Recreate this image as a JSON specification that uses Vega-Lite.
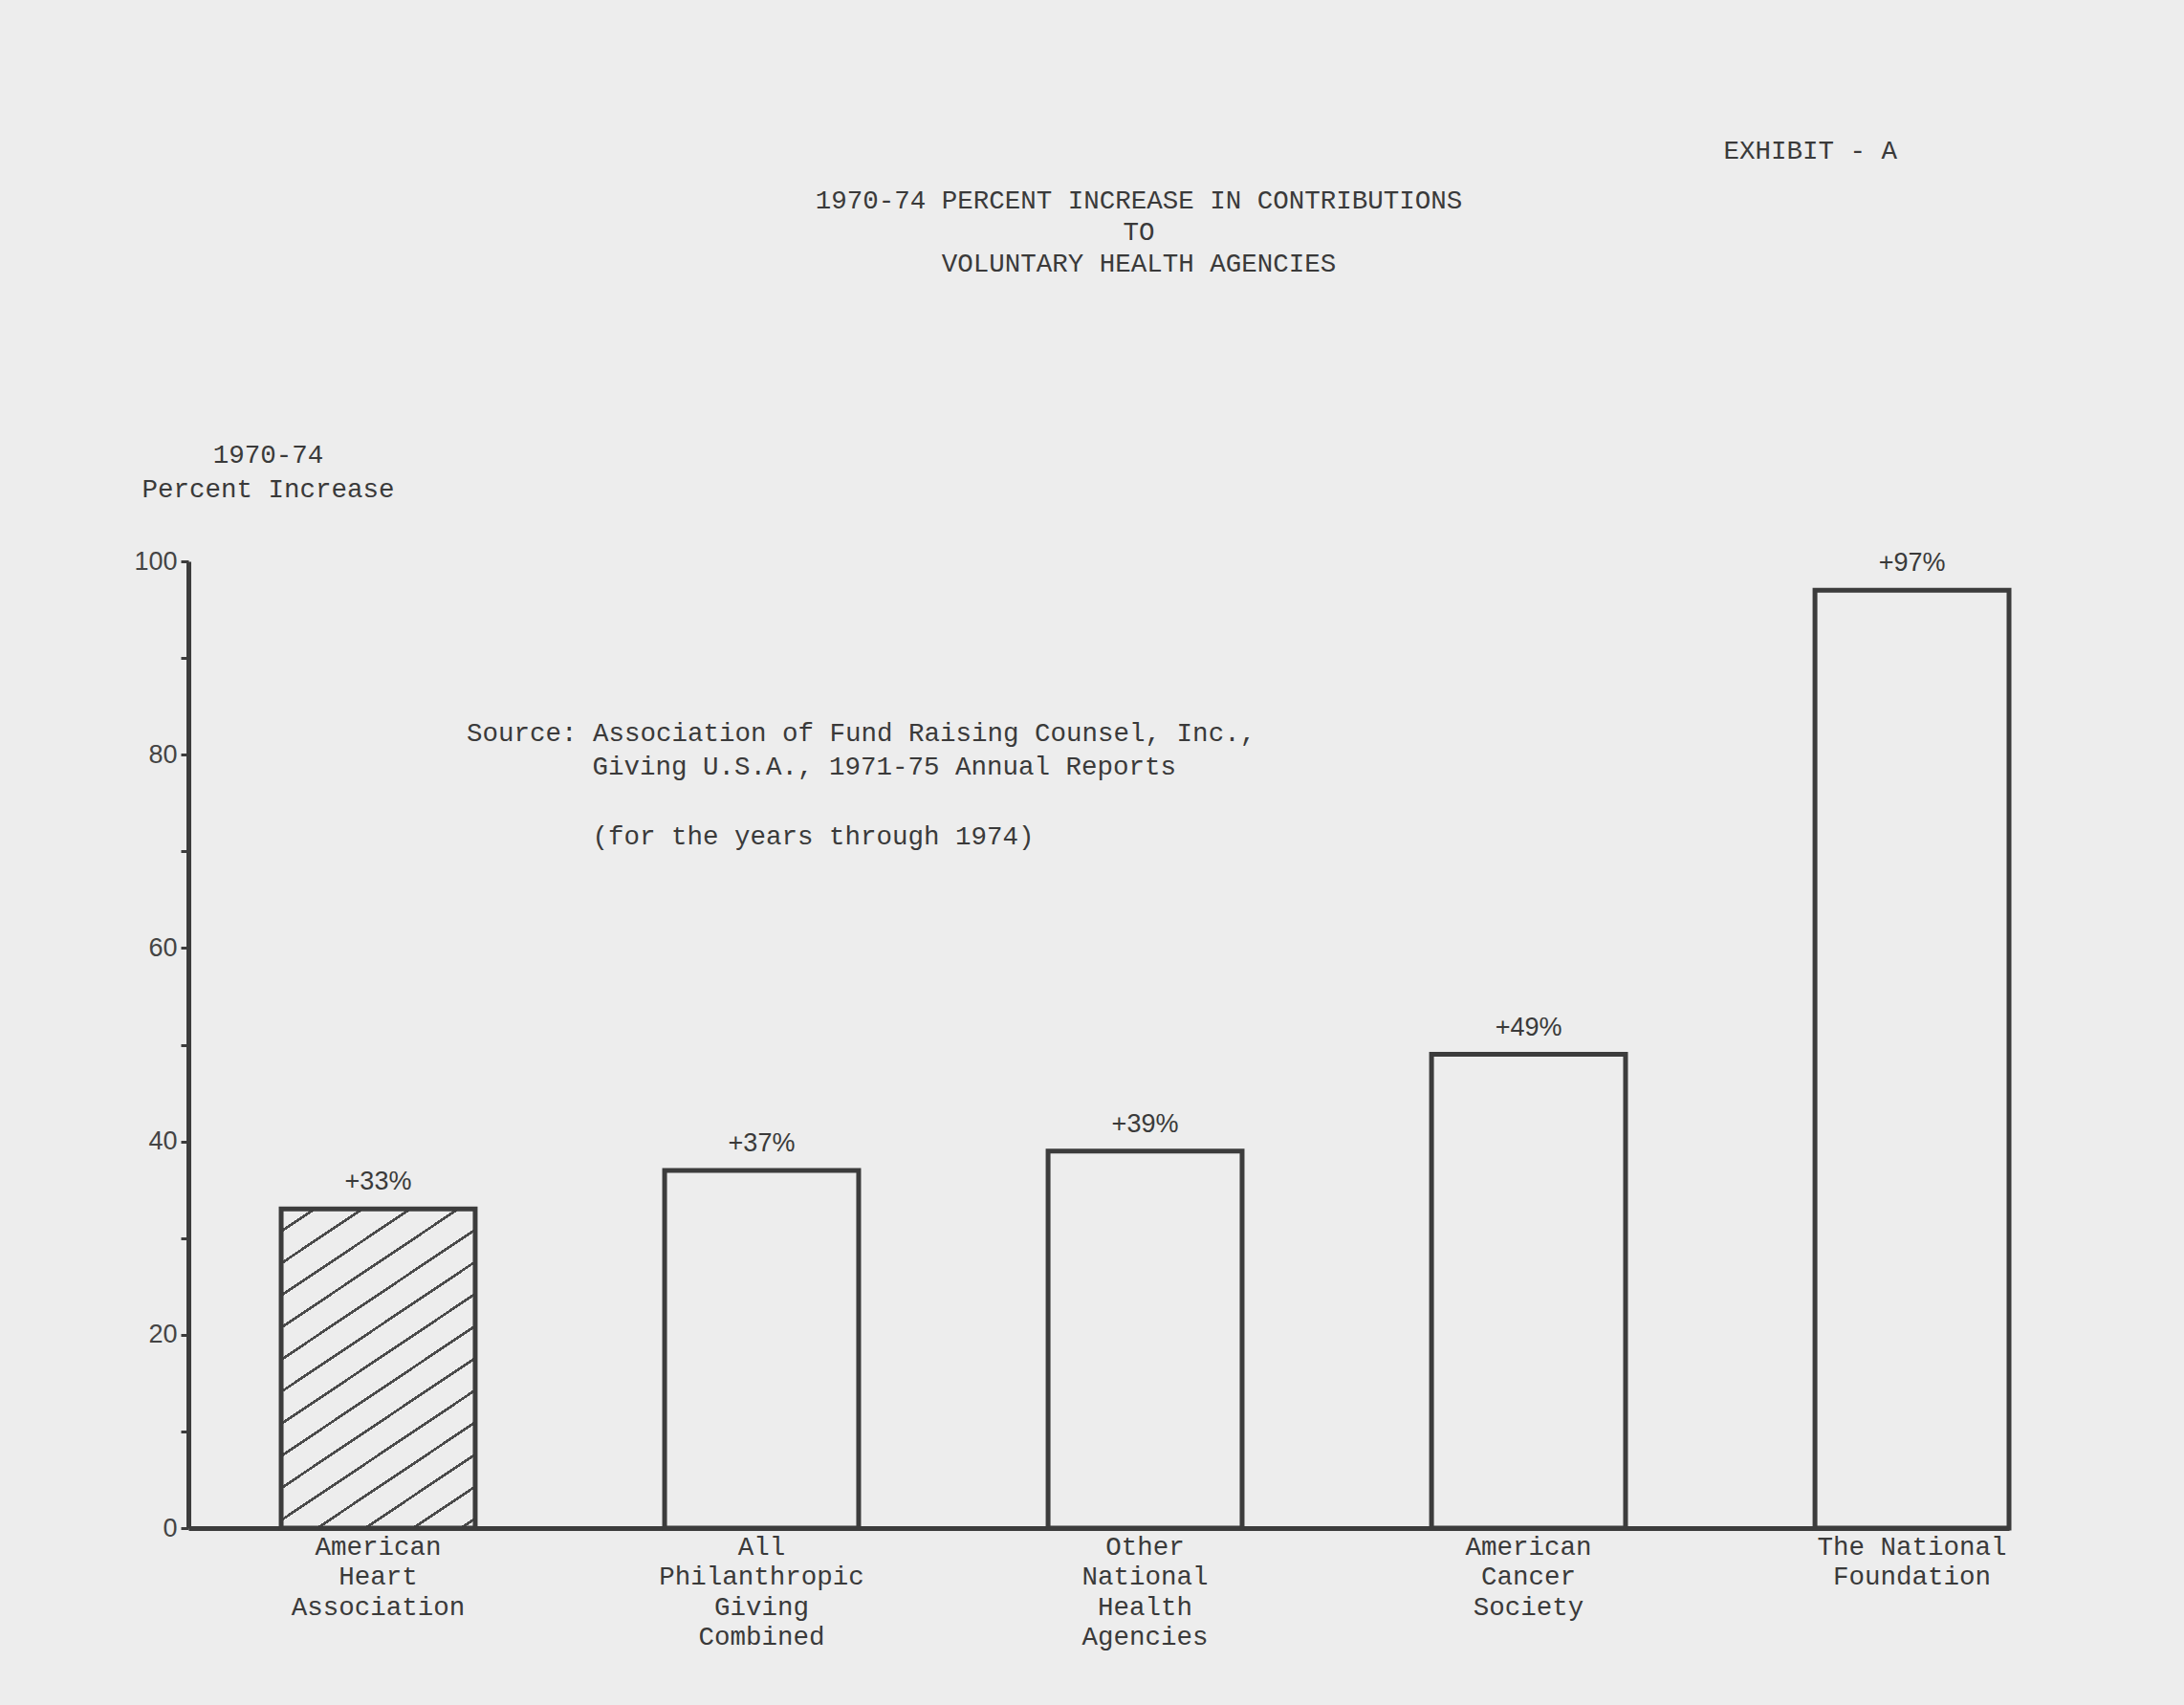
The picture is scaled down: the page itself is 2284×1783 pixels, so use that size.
{
  "$schema": "https://vega.github.io/schema/vega-lite/v6.json",
  "width": 1904,
  "height": 1011,
  "autosize": {"type": "none"},
  "padding": {"left": 197, "top": 587, "right": 183, "bottom": 185},
  "background": "#ededed",
  "config": {"view": {"stroke": null}, "font": "Liberation Mono"},
  "title": {
    "text": ["1970-74 PERCENT INCREASE IN CONTRIBUTIONS", "TO", "VOLUNTARY HEALTH AGENCIES"],
    "font": "Liberation Mono",
    "fontSize": 27.5,
    "fontWeight": "normal",
    "color": "#3a3a3a",
    "lineHeight": 33,
    "anchor": "middle",
    "frame": "group",
    "dx": 42,
    "offset": -145
  },
  "layer": [
    {
      "data": {
        "values": [
          {"agency": "American Heart Association", "pct": 33, "label": "+33%"},
          {"agency": "All Philanthropic Giving Combined", "pct": 37, "label": "+37%"},
          {"agency": "Other National Health Agencies", "pct": 39, "label": "+39%"},
          {"agency": "American Cancer Society", "pct": 49, "label": "+49%"},
          {"agency": "The National Foundation", "pct": 97, "label": "+97%"}
        ]
      },
      "encoding": {
        "x": {
          "field": "agency",
          "type": "nominal",
          "sort": null,
          "scale": {"paddingInner": 0.494, "paddingOuter": 0.121, "align": 1},
          "axis": {
            "title": null,
            "labelAngle": 0,
            "labelExpr": "datum.value == 'The National Foundation' ? ['The National', 'Foundation'] : split(datum.value, ' ')",
            "labelFont": "Liberation Mono",
            "labelFontSize": 27.5,
            "labelLineHeight": 31.5,
            "labelColor": "#3a3a3a",
            "labelBaseline": "top",
            "labelPadding": 5,
            "labelLimit": 500,
            "ticks": false,
            "domainColor": "#3c3c3c",
            "domainWidth": 5,
            "labelOverlap": false
          }
        },
        "y": {
          "field": "pct",
          "type": "quantitative",
          "scale": {"domain": [0, 100], "nice": false},
          "axis": {
            "title": ["1970-74", "Percent Increase"],
            "titleAngle": 0,
            "titleAlign": "center",
            "titleBaseline": "alphabetic",
            "titleX": 83,
            "titleY": -104,
            "titleFont": "Liberation Mono",
            "titleFontSize": 27.5,
            "titleFontWeight": "normal",
            "titleLineHeight": 36,
            "titleColor": "#3a3a3a",
            "values": [0, 10, 20, 30, 40, 50, 60, 70, 80, 90, 100],
            "labelExpr": "datum.value % 20 == 0 ? datum.label : ''",
            "labelFont": "Liberation Sans",
            "labelFontSize": 27,
            "labelColor": "#444444",
            "labelPadding": 4,
            "tickSize": 8,
            "tickWidth": 3,
            "tickColor": "#3c3c3c",
            "domainColor": "#3c3c3c",
            "domainWidth": 5,
            "grid": false,
            "labelOverlap": false
          }
        }
      },
      "layer": [
        {
          "transform": [{"filter": "datum.agency == 'American Heart Association'"}],
          "mark": {
            "type": "bar",
            "strokeWidth": 0,
            "fill": {
              "gradient": "linear",
              "x1": 0, "y1": 0, "x2": 0.492, "y2": 1.207,
              "stops": [
                {"offset": 0, "color": "#ededed"},
                {"offset": 0.046, "color": "#ededed"}, {"offset": 0.046, "color": "#4a4a4a"}, {"offset": 0.053, "color": "#4a4a4a"}, {"offset": 0.053, "color": "#ededed"},
                {"offset": 0.1175, "color": "#ededed"}, {"offset": 0.1175, "color": "#4a4a4a"}, {"offset": 0.1245, "color": "#4a4a4a"}, {"offset": 0.1245, "color": "#ededed"},
                {"offset": 0.189, "color": "#ededed"}, {"offset": 0.189, "color": "#4a4a4a"}, {"offset": 0.196, "color": "#4a4a4a"}, {"offset": 0.196, "color": "#ededed"},
                {"offset": 0.2605, "color": "#ededed"}, {"offset": 0.2605, "color": "#4a4a4a"}, {"offset": 0.2675, "color": "#4a4a4a"}, {"offset": 0.2675, "color": "#ededed"},
                {"offset": 0.332, "color": "#ededed"}, {"offset": 0.332, "color": "#4a4a4a"}, {"offset": 0.339, "color": "#4a4a4a"}, {"offset": 0.339, "color": "#ededed"},
                {"offset": 0.4035, "color": "#ededed"}, {"offset": 0.4035, "color": "#4a4a4a"}, {"offset": 0.4105, "color": "#4a4a4a"}, {"offset": 0.4105, "color": "#ededed"},
                {"offset": 0.475, "color": "#ededed"}, {"offset": 0.475, "color": "#4a4a4a"}, {"offset": 0.482, "color": "#4a4a4a"}, {"offset": 0.482, "color": "#ededed"},
                {"offset": 0.5465, "color": "#ededed"}, {"offset": 0.5465, "color": "#4a4a4a"}, {"offset": 0.5535, "color": "#4a4a4a"}, {"offset": 0.5535, "color": "#ededed"},
                {"offset": 0.618, "color": "#ededed"}, {"offset": 0.618, "color": "#4a4a4a"}, {"offset": 0.625, "color": "#4a4a4a"}, {"offset": 0.625, "color": "#ededed"},
                {"offset": 0.6895, "color": "#ededed"}, {"offset": 0.6895, "color": "#4a4a4a"}, {"offset": 0.6965, "color": "#4a4a4a"}, {"offset": 0.6965, "color": "#ededed"},
                {"offset": 0.761, "color": "#ededed"}, {"offset": 0.761, "color": "#4a4a4a"}, {"offset": 0.768, "color": "#4a4a4a"}, {"offset": 0.768, "color": "#ededed"},
                {"offset": 0.8325, "color": "#ededed"}, {"offset": 0.8325, "color": "#4a4a4a"}, {"offset": 0.8395, "color": "#4a4a4a"}, {"offset": 0.8395, "color": "#ededed"},
                {"offset": 0.904, "color": "#ededed"}, {"offset": 0.904, "color": "#4a4a4a"}, {"offset": 0.911, "color": "#4a4a4a"}, {"offset": 0.911, "color": "#ededed"},
                {"offset": 0.9755, "color": "#ededed"}, {"offset": 0.9755, "color": "#4a4a4a"}, {"offset": 0.9825, "color": "#4a4a4a"}, {"offset": 0.9825, "color": "#ededed"},
                {"offset": 1, "color": "#ededed"}
              ]
            }
          }
        },
        {
          "mark": {"type": "bar", "fill": "transparent", "stroke": "#3c3c3c", "strokeWidth": 5}
        },
        {
          "mark": {"type": "text", "font": "Liberation Sans", "fontSize": 27, "fill": "#3a3a3a", "baseline": "alphabetic", "dy": -20},
          "encoding": {"text": {"field": "label", "type": "nominal"}}
        }
      ]
    },
    {
      "data": {"values": [{"note": "source"}]},
      "mark": {
        "type": "text",
        "font": "Liberation Mono",
        "fontSize": 27.5,
        "fill": "#3a3a3a",
        "align": "left",
        "baseline": "alphabetic",
        "dx": 92.5,
        "text": "Source: Association of Fund Raising Counsel, Inc.,"
      },
      "encoding": {
        "x": {"datum": "American Heart Association", "type": "nominal"},
        "y": {"datum": 81.4, "type": "quantitative"}
      }
    },
    {
      "data": {"values": [{"note": "source2"}]},
      "mark": {
        "type": "text",
        "font": "Liberation Mono",
        "fontSize": 27.5,
        "fill": "#3a3a3a",
        "align": "left",
        "baseline": "alphabetic",
        "lineHeight": 73,
        "dx": 224,
        "text": ["Giving U.S.A., 1971-75 Annual Reports", "(for the years through 1974)"]
      },
      "encoding": {
        "x": {"datum": "American Heart Association", "type": "nominal"},
        "y": {"datum": 77.9, "type": "quantitative"}
      }
    },
    {
      "data": {"values": [{"note": "exhibit"}]},
      "mark": {
        "type": "text",
        "font": "Liberation Mono",
        "fontSize": 27.5,
        "fill": "#3a3a3a",
        "align": "right",
        "baseline": "alphabetic",
        "dx": -15.5,
        "text": "EXHIBIT - A"
      },
      "encoding": {
        "x": {"datum": "The National Foundation", "type": "nominal"},
        "y": {"datum": 141.6, "type": "quantitative"}
      }
    }
  ]
}
